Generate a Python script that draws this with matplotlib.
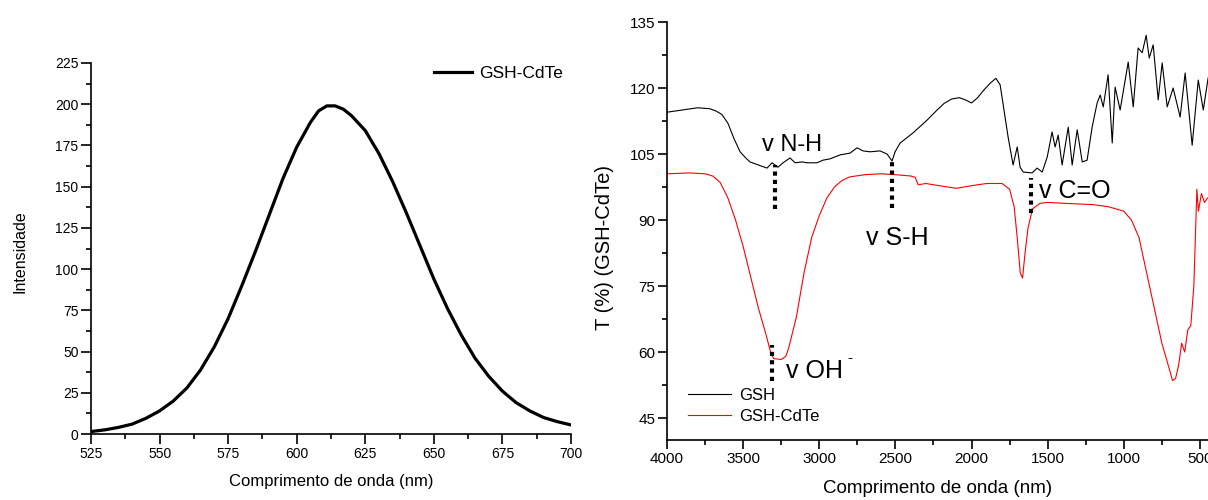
import numpy as np
import matplotlib
matplotlib.use('Agg')
import matplotlib.pyplot as plt
from matplotlib.ticker import MultipleLocator

plt.rcParams['font.family'] = ['Liberation Sans', 'DejaVu Sans']

# emission spectrum (left)
wl = [525, 530, 535, 540, 545, 550, 555, 560, 565, 570, 575, 580, 585, 590,
      595, 600, 605, 608, 611, 614, 617, 620, 625, 630, 635, 640, 645, 650,
      655, 660, 665, 670, 675, 680, 685, 690, 695, 700]
intens = [1.5, 2.5, 4, 6, 9.5, 14, 20, 28, 39, 53, 70, 90, 111, 133,
          155, 174, 189, 196, 199, 199, 197, 193, 184, 170, 153, 134, 114, 94,
          76, 60, 46, 35, 26, 19, 14, 10, 7.5, 5.5]

# FTIR (right)
gsh_wn = [4000, 3900, 3800, 3720, 3680, 3640, 3600, 3560, 3520, 3480, 3455, 3400,
          3343, 3310, 3290, 3271, 3238, 3192, 3159, 3113, 3080, 3015, 2975, 2929,
          2863, 2798, 2752, 2712, 2666, 2601, 2555, 2522, 2502, 2469, 2384, 2292,
          2226, 2180, 2130, 2080, 2040, 2000, 1960, 1920, 1880, 1840, 1812, 1760,
          1727, 1700, 1681, 1661, 1602, 1569, 1536, 1503, 1471, 1451, 1431, 1405,
          1365, 1339, 1306, 1273, 1241, 1208, 1175, 1155, 1135, 1103, 1076, 1057,
          1024, 1004, 971, 938, 906, 879, 853, 833, 807, 774, 748, 715,
          676, 630, 597, 551, 511, 478, 446]
gsh_t = [114.5, 115, 115.5, 115.3, 114.8, 114, 112, 108.5, 105.5, 104, 103.2, 102.5,
         101.8, 103, 102.5, 102, 103, 104.1, 103, 103.2, 103, 103, 103.6, 103.9,
         104.8, 105.2, 106.4, 105.7, 105.5, 105.7, 105, 103.4, 105.5, 107.5, 109.8, 112.7,
         115, 116.5, 117.5, 117.8, 117.3, 116.6, 117.8, 119.5, 121, 122.2, 120.7, 108.9,
         102.5, 106.6, 102, 100.9, 100.7, 101.8, 100.9, 104.3, 110, 106.6, 109.3, 102.5,
         111.1, 102.5, 110.5, 103.2, 103.6, 111.1, 116.6, 118.4, 115.7, 123, 107.5, 120.2,
         115, 119.1, 125.9, 115.7, 129.1, 128, 132, 126.8, 129.8, 117.3, 125.7, 115.7,
         120, 113.4, 123.4, 107, 121.8, 115, 122.3]

cdte_wn = [4000, 3850, 3750, 3700, 3650, 3600, 3550, 3500, 3450, 3400, 3350, 3320,
           3300, 3250, 3220, 3200, 3150, 3100, 3050, 3000, 2950, 2900, 2850, 2800,
           2700, 2600, 2500, 2400, 2370, 2350, 2300, 2250, 2100, 2000, 1900, 1800,
           1750, 1720, 1700, 1680, 1665, 1650, 1630, 1600, 1550, 1500, 1400, 1200,
           1100, 1000, 950, 900, 850, 800, 750, 700, 680, 660, 640, 620,
           600, 580, 560, 540, 520, 510, 490, 470, 450]
cdte_t = [100.5, 100.7, 100.5, 100, 98.5, 95, 90, 84, 77, 70, 64, 60,
          58.5, 58.3, 59, 61, 68, 78, 86, 91, 95, 97.5, 99, 99.8,
          100.3, 100.5, 100.3, 100, 99.7, 98, 98.3, 98, 97.2, 97.8, 98.3, 98.3,
          97, 93, 86, 78, 76.8, 82, 88, 92.5, 93.8, 94, 93.8, 93.5,
          93, 92, 90, 86, 78, 70, 62, 56, 53.5, 54, 57, 62,
          60, 65, 66, 75, 97, 92, 96, 94, 95]

# band marks: position, dotted line span
band_wn = [3290, 2522, 1608, 3310]
band_lo = [92.5, 92.8, 91.6, 53.5]
band_hi = [102.5, 103.5, 99.5, 61.6]

fig = plt.figure(figsize=(12.08, 5), dpi=100)

# ---- left panel
ax1 = fig.add_axes([91/1208, 1-434/500, 480/1208, 371/500])
ax1.plot(wl, intens, color='black', lw=2.3, label='GSH-CdTe')
ax1.set_xlim(525, 700)
ax1.set_ylim(0, 225)
ax1.xaxis.set_major_locator(MultipleLocator(25))
ax1.xaxis.set_minor_locator(MultipleLocator(12.5))
ax1.yaxis.set_major_locator(MultipleLocator(25))
ax1.yaxis.set_minor_locator(MultipleLocator(12.5))
for s in ['top', 'right']:
    ax1.spines[s].set_visible(False)
for s in ['left', 'bottom']:
    ax1.spines[s].set_linewidth(1.2)
ax1.tick_params(which='major', length=7, width=1.2, labelsize=10, pad=2)
ax1.tick_params(which='minor', length=3.5, width=1.2)
ax1.set_xlabel('Comprimento de onda (nm)', fontsize=12)
ax1.xaxis.set_label_coords(0.5, -0.108)
fig.text(20/1208, 1-252/500, 'Intensidade', rotation=90, fontsize=11.5,
         ha='center', va='center')
ax1.legend(loc='center left', bbox_to_anchor=(434/1208, 1-73/500),
           bbox_transform=fig.transFigure, frameon=False, fontsize=12.5,
           handlelength=2.2, handletextpad=0.4, borderpad=0, borderaxespad=0)

# ---- right panel
ax2 = fig.add_axes([667/1208, 1-440/500, 541/1208, 418/500])
ax2.plot(gsh_wn, gsh_t, color='black', lw=0.8, label='GSH')
ax2.plot(cdte_wn, cdte_t, color='red', lw=0.8, label='GSH-CdTe')
ax2.set_xlim(4000, 447)
ax2.set_ylim(40, 135)
ax2.xaxis.set_major_locator(MultipleLocator(500))
ax2.xaxis.set_minor_locator(MultipleLocator(250))
ax2.yaxis.set_minor_locator(MultipleLocator(7.5))
ax2.set_yticks(np.arange(45, 136, 15))
for s in ['top', 'right']:
    ax2.spines[s].set_visible(False)
for s in ['left', 'bottom']:
    ax2.spines[s].set_linewidth(1.2)
ax2.tick_params(which='major', length=6.5, width=1.2, labelsize=11, pad=2)
ax2.tick_params(which='minor', length=3.5, width=1.2)
ax2.set_xlabel('Comprimento de onda (nm)', fontsize=13.5)
ax2.xaxis.set_label_coords(0.5, -0.096)
fig.text(605/1208, 1-248/500, 'T (%) (GSH-CdTe)', rotation=90, fontsize=14.5,
         ha='center', va='center')

ax2.vlines(band_wn, band_lo, band_hi, colors='black', lw=3,
           linestyles=[(0, (1, 1))])
ax2.text(3376, 107.05, 'v N-H', fontsize=17, va='center', ha='left')
ax2.text(2693, 85.9, 'v S-H', fontsize=18, va='center', ha='left')
ax2.text(1556, 96.6, 'v C=O', fontsize=18, va='center', ha='left')
ax2.text(3218, 55.7, 'v OH', fontsize=18, va='center', ha='left')
ax2.text(2817, 58.6, '-', fontsize=11, va='center', ha='left')

ax2.legend(loc='center left', bbox_to_anchor=(688/1208, 1-406/500),
           bbox_transform=fig.transFigure, frameon=False, fontsize=12,
           handlelength=2.6, handletextpad=0.45, labelspacing=0.35,
           borderpad=0, borderaxespad=0)

fig.savefig('out.png', dpi=100)
